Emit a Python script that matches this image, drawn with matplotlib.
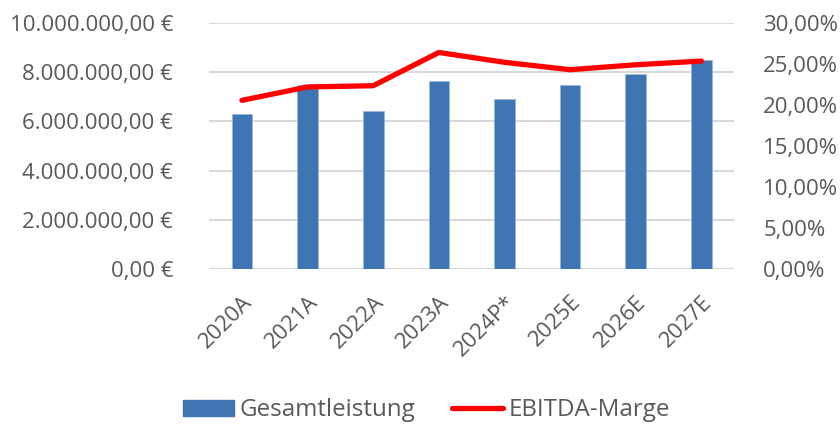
import matplotlib.pyplot as plt
import matplotlib.transforms as mtransforms
from matplotlib.ticker import FuncFormatter
from matplotlib.lines import Line2D
from matplotlib.patches import Patch

plt.rcParams["font.family"] = ["Open Sans", "DejaVu Sans"]

jahre = ["2020A", "2021A", "2022A", "2023A", "2024P*", "2025E", "2026E", "2027E"]
gesamtleistung = [6320000, 7460000, 6410000, 7660000, 6930000, 7470000, 7930000, 8500000]
ebitda_marge = [20.57, 22.2, 22.35, 26.4, 25.2, 24.3, 24.9, 25.35]

text_farbe = "#595959"
grid_farbe = "#d9d9d9"
balken_farbe = "#4075B4"
linien_farbe = "#ff0000"
schrift = 16


def euro(v, pos):
    s = f"{v:,.2f}".replace(",", "X").replace(".", ",").replace("X", ".")
    return s + " €"


def prozent(v, pos):
    return f"{v:.2f}".replace(".", ",") + "%"


fig = plt.figure(figsize=(8.4, 4.24), dpi=100)
ax = fig.add_axes([0.249, 0.365, 0.625, 0.581])
x = list(range(len(jahre)))
ax.bar(x, gesamtleistung, width=0.315, color=balken_farbe, edgecolor="#9ab6dc", linewidth=0.6, zorder=3)
ax.set_xlim(-0.5, len(jahre) - 0.5)
ax.set_ylim(0, 10000000)
ax.set_yticks(range(0, 10000001, 2000000))
ax.yaxis.set_major_formatter(FuncFormatter(euro))
ax.grid(axis="y", color=grid_farbe, linewidth=1.5, zorder=0)
ax.set_xticks(x)
ax.set_xticklabels(jahre, rotation=45, ha="right", rotation_mode="anchor")
versatz = mtransforms.ScaledTranslation(9 / 100, 0, fig.dpi_scale_trans)
for lbl in ax.get_xticklabels():
    lbl.set_transform(lbl.get_transform() + versatz)

ax2 = ax.twinx()
ax2.plot(x, ebitda_marge, color=linien_farbe, linewidth=3.8, solid_capstyle="round", solid_joinstyle="round")
ax2.set_ylim(0, 30)
ax2.set_yticks(range(0, 31, 5))
ax2.yaxis.set_major_formatter(FuncFormatter(prozent))

for a in (ax, ax2):
    for s in a.spines.values():
        s.set_visible(False)
    a.tick_params(length=0, labelsize=schrift, labelcolor=text_farbe)
ax.tick_params(axis="y", pad=26)
ax.tick_params(axis="x", pad=16)
ax2.tick_params(axis="y", pad=21)

handles = [
    Patch(facecolor=balken_farbe, edgecolor=balken_farbe),
    Line2D([0], [0], color=linien_farbe, linewidth=3.8, solid_capstyle="round"),
]
fig.legend(handles, ["Gesamtleistung", "EBITDA-Marge"], loc="center", bbox_to_anchor=(0.508, 0.032),
           ncol=2, frameon=False, fontsize=17.4, labelcolor=text_farbe, handlelength=2.1,
           handleheight=0.6, handletextpad=0.24, columnspacing=1.53)

fig.savefig("out.png", dpi=100)
